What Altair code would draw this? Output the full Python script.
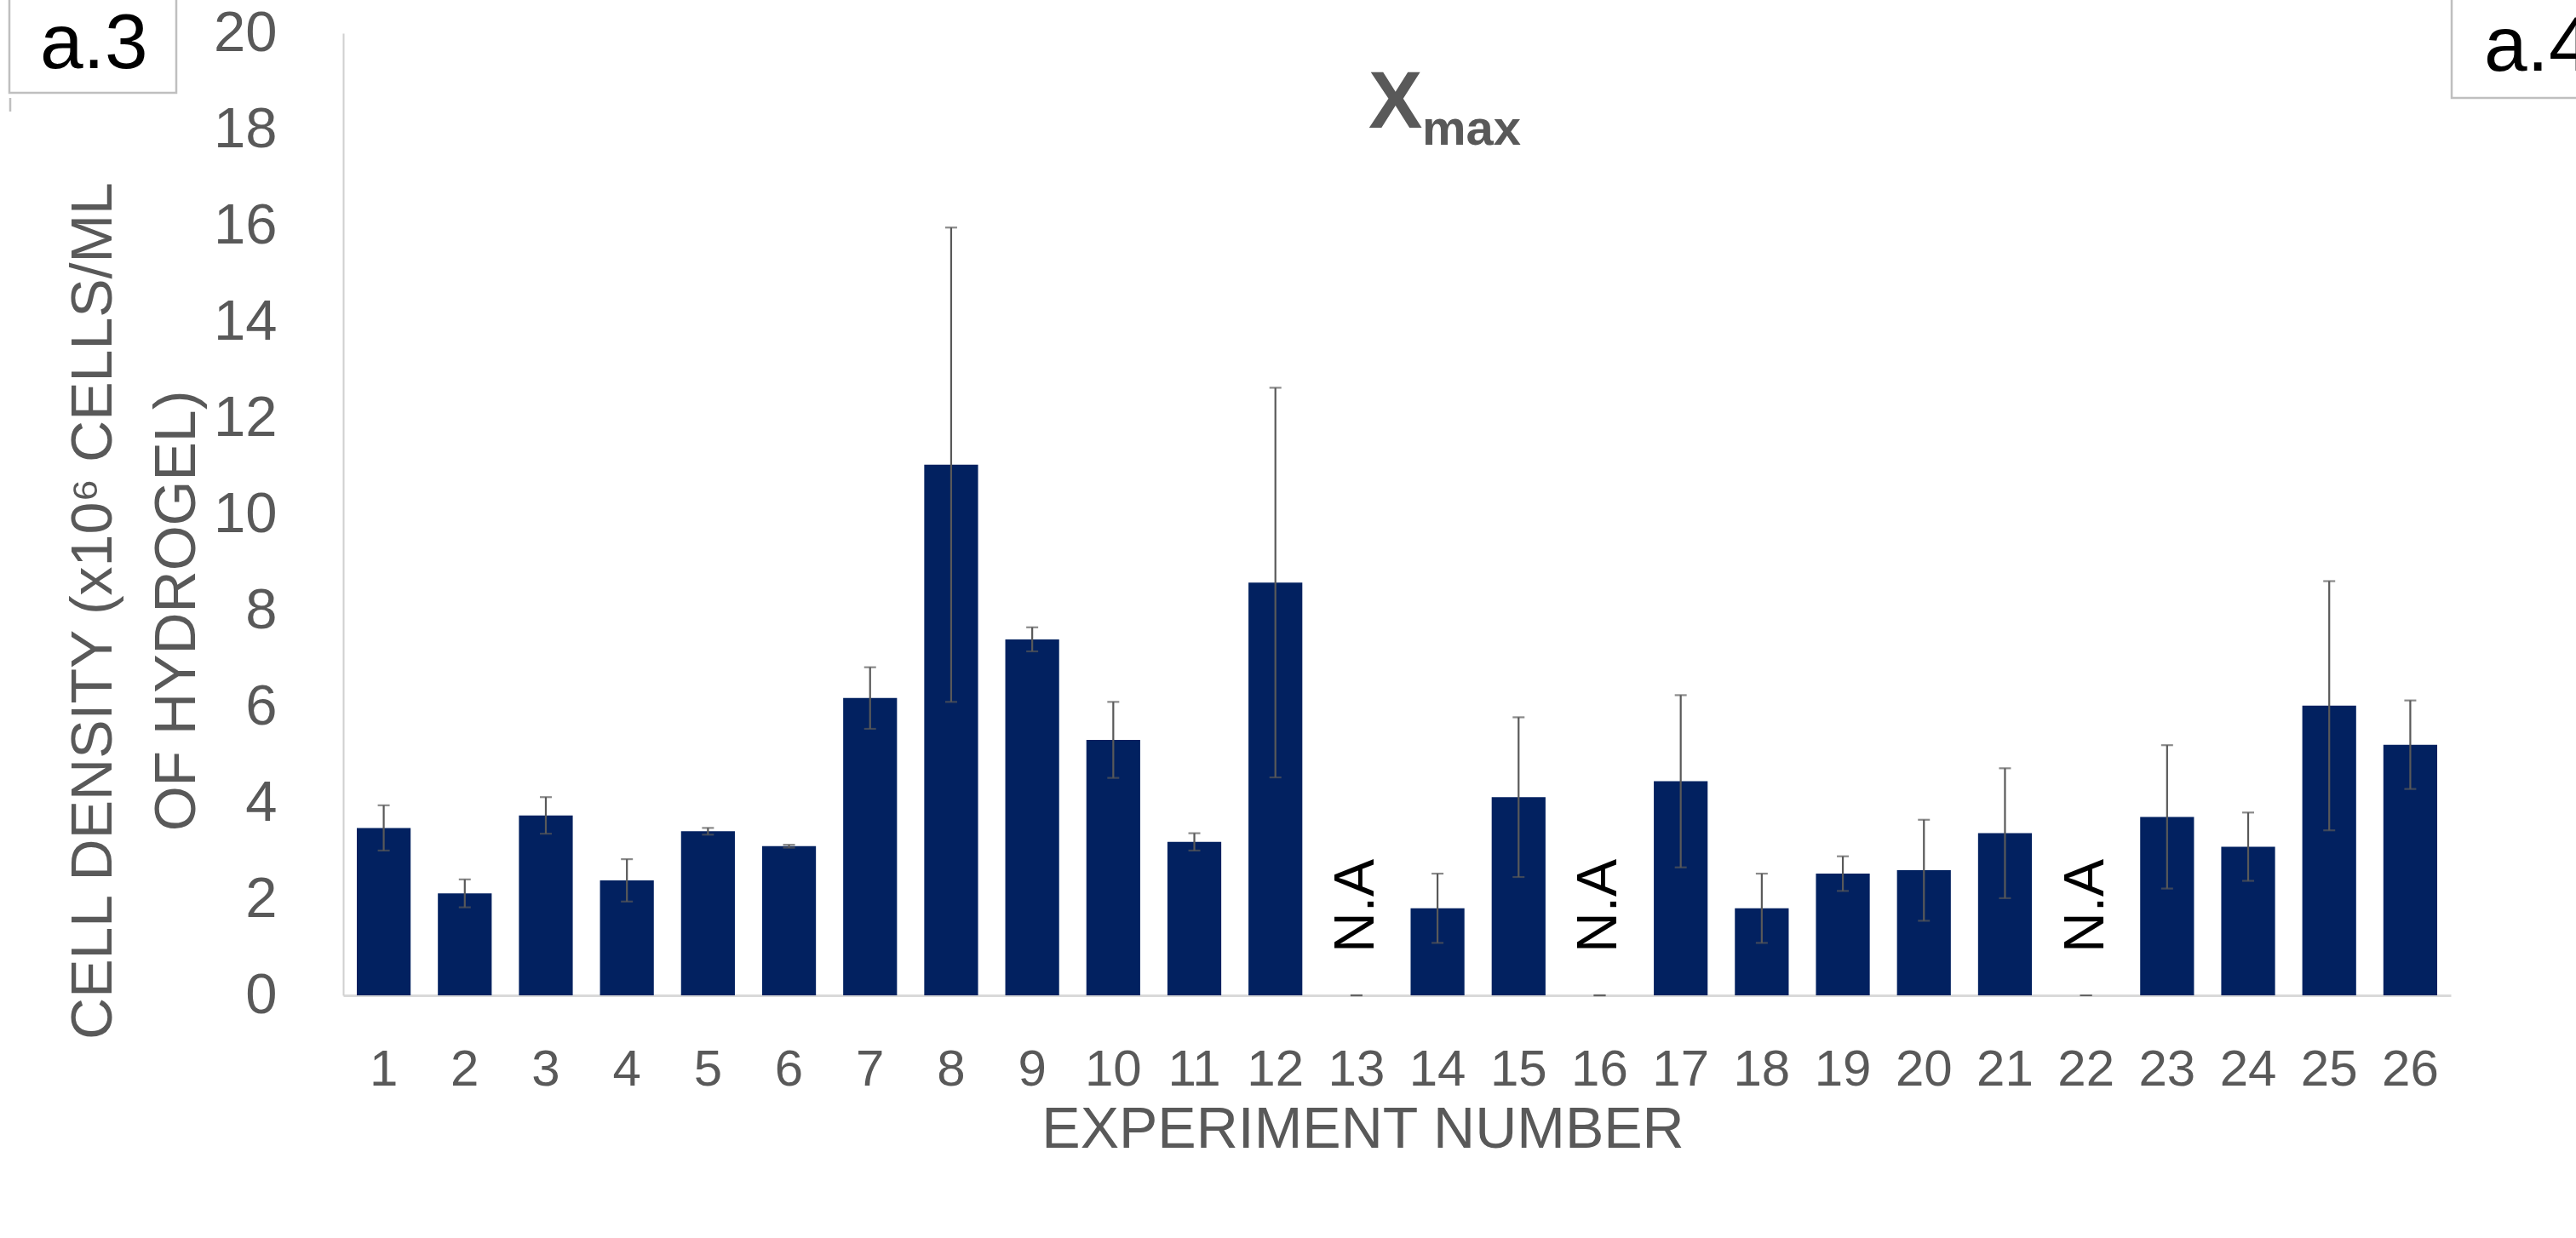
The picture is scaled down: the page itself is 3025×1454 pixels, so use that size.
import altair as alt
import pandas as pd

# Experiment numbers, mean X_max (x10^6 cells/mL hydrogel) and error (± SD)
experiments = [str(i) for i in range(1, 27)]
means = [3.48, 2.12, 3.74, 2.39, 3.41, 3.10, 6.18, 11.03, 7.40, 5.31, 3.19, 8.58, 0.0,
         1.81, 4.12, 0.0, 4.45, 1.81, 2.53, 2.60, 3.37, 0.0, 3.71, 3.09, 6.02, 5.21]
errors = [0.47, 0.29, 0.38, 0.44, 0.07, 0.03, 0.64, 4.93, 0.25, 0.79, 0.18, 4.05, 0.0,
          0.72, 1.66, 0.0, 1.79, 0.72, 0.36, 1.05, 1.35, 0.0, 1.49, 0.71, 2.59, 0.92]
not_available = ["13", "16", "22"]
na_text = "N.A"

y_ticks = list(range(0, 21, 2))
x_title = "EXPERIMENT NUMBER"
y_title = ["CELL DENSITY (x10\u2076 CELLS/ML", "OF HYDROGEL)"]
title_main = "X"
title_sub = "max"
panel_left = "a.3"
panel_right = "a.4"

FONT = "Liberation Sans"
GREY = "#595959"
NAVY = "#022160"

df = pd.DataFrame({"experiment": experiments, "mean": means, "err": errors})
df["lo"] = df["mean"] - df["err"]
df["hi"] = df["mean"] + df["err"]
na_df = pd.DataFrame({"experiment": not_available, "label": [na_text] * len(not_available)})

x_enc = alt.X(
    "experiment:N",
    sort=experiments,
    scale=alt.Scale(paddingInner=0.336, paddingOuter=0.168),
    axis=alt.Axis(
        title=x_title,
        labelAngle=0,
        labelFontSize=60,
        labelColor=GREY,
        labelPadding=58,
        ticks=False,
        tickSize=0,
        domainColor="#d9d9d9",
        domainWidth=3,
        titleFontSize=68,
        titleFontWeight="normal",
        titleColor=GREY,
        titleBaseline="alphabetic",
        titleAlign="center",
        titleX=1197,
        titleY=178,
    ),
)

y_scale = alt.Scale(domain=[0, 20], nice=False)

bars = alt.Chart(df).mark_bar(color=NAVY).encode(
    x=x_enc,
    y=alt.Y(
        "mean:Q",
        scale=y_scale,
        axis=alt.Axis(
            values=y_ticks,
            format="d",
            grid=False,
            ticks=False,
            tickSize=0,
            labelFontSize=67,
            labelColor=GREY,
            labelPadding=78,
            domainColor="#d0d0d0",
            domainWidth=2,
            title=y_title,
            titleAngle=270,
            titleFontSize=68,
            titleFontWeight="normal",
            titleColor=GREY,
            titleLineHeight=98,
            titleBaseline="alphabetic",
            titleAlign="center",
            titleX=-273,
            titleY=678,
        ),
    ),
)

whiskers = alt.Chart(df).mark_rule(color=GREY, strokeWidth=2.2).encode(
    x=alt.X("experiment:N", sort=experiments),
    y=alt.Y("lo:Q", scale=y_scale),
    y2="hi:Q",
)
caps_hi = alt.Chart(df).mark_tick(color=GREY, thickness=2.2, size=14).encode(
    x=alt.X("experiment:N", sort=experiments),
    y=alt.Y("hi:Q", scale=y_scale),
)
caps_lo = alt.Chart(df).mark_tick(color=GREY, thickness=2.2, size=14).encode(
    x=alt.X("experiment:N", sort=experiments),
    y=alt.Y("lo:Q", scale=y_scale),
)

na_labels = alt.Chart(na_df).mark_text(
    angle=270, align="left", baseline="middle", fontSize=66, color="black", font=FONT
).encode(
    x=alt.X("experiment:N", sort=experiments),
    y=alt.value(1080),
    text="label:N",
)

# Title X with subscript "max"
t_main = alt.Chart(pd.DataFrame({"t": [title_main]})).mark_text(
    align="left", baseline="alphabetic", fontSize=95, fontWeight="bold", color=GREY, font=FONT
).encode(x=alt.value(1204), y=alt.value(111), text="t:N")
t_sub = alt.Chart(pd.DataFrame({"t": [title_sub]})).mark_text(
    align="left", baseline="alphabetic", fontSize=58, fontWeight="bold", color=GREY, font=FONT
).encode(x=alt.value(1267), y=alt.value(131), text="t:N")

# Panel tags in the corners
box_left = alt.Chart(pd.DataFrame({"k": [0]})).mark_rect(
    fill="white", stroke="#bfbfbf", strokeWidth=2.5
).encode(x=alt.value(-392), x2=alt.value(-196), y=alt.value(-60), y2=alt.value(70))
edge_left = alt.Chart(pd.DataFrame({"k": [0]})).mark_rule(
    color="#bfbfbf", strokeWidth=2.5
).encode(x=alt.value(-391), y=alt.value(76), y2=alt.value(92))
tag_left = alt.Chart(pd.DataFrame({"t": [panel_left]})).mark_text(
    align="left", baseline="alphabetic", fontSize=91, color="black", font=FONT
).encode(x=alt.value(-356), y=alt.value(41), text="t:N")

box_right = alt.Chart(pd.DataFrame({"k": [0]})).mark_rect(
    fill="white", stroke="#bfbfbf", strokeWidth=2.5
).encode(x=alt.value(2476), x2=alt.value(2720), y=alt.value(-60), y2=alt.value(76))
tag_right = alt.Chart(pd.DataFrame({"t": [panel_right]})).mark_text(
    align="left", baseline="alphabetic", fontSize=91, color="black", font=FONT
).encode(x=alt.value(2514), y=alt.value(44), text="t:N")

chart = alt.layer(
    bars, whiskers, caps_hi, caps_lo, na_labels, t_main, t_sub,
    box_left, edge_left, tag_left, box_right, tag_right,
).properties(
    width=2475,
    height=1130,
    autosize=alt.AutoSizeParams(type="none"),
    padding={"left": 403, "top": 39, "right": 147, "bottom": 285},
    background="white",
).configure(
    font=FONT,
).configure_view(
    stroke=None,
)

chart.save("out.html", embed_options={"renderer": "svg", "actions": False})
